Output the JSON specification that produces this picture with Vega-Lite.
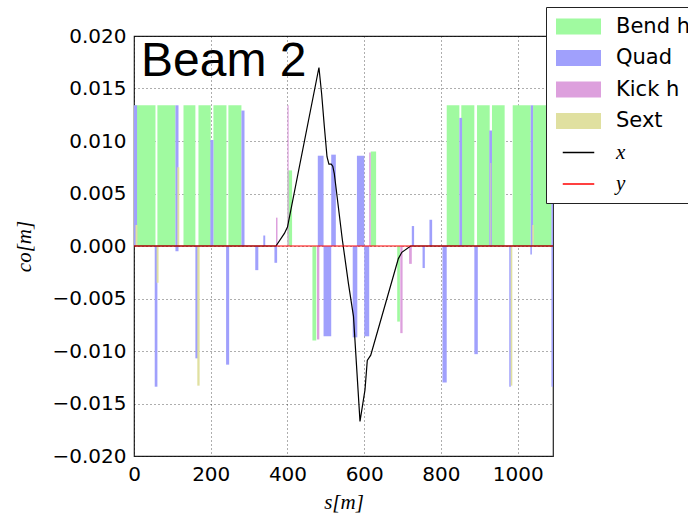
{
  "$schema": "https://vega.github.io/schema/vega-lite/v6.json",
  "width": 419,
  "height": 420,
  "autosize": {"type": "none"},
  "padding": {"left": 134, "top": 36, "right": 135, "bottom": 59},
  "background": "white",
  "title": {"text": "Beam 2", "anchor": "start", "frame": "group", "orient": "top", "offset": -45, "dy": 72, "baseline": "alphabetic", "font": "Liberation Sans", "fontSize": 48, "fontWeight": "normal", "color": "#000", "dx": 7},
  "config": {
    "view": {"stroke": "#222", "strokeWidth": 1.2},
    "axis": {"labelFont": "DejaVu Sans", "labelFontSize": 20, "labelColor": "#000", "ticks": false, "domain": false, "labelPadding": 8, "labelFlush": false, "labelOverlap": false, "grid": true, "gridDash": [1, 3], "gridColor": "#000", "gridOpacity": 0.8, "gridWidth": 0.8, "titleFont": "Liberation Serif", "titleFontStyle": "italic", "titleFontWeight": "normal", "titleFontSize": 21, "titleColor": "#000"}
  },
  "datasets": {
    "elements": [
      {"type": "Bend h", "s0": 1, "s1": 56, "v": 0.0134},
      {"type": "Bend h", "s0": 61, "s1": 108, "v": 0.0134},
      {"type": "Bend h", "s0": 129, "s1": 160, "v": 0.0134},
      {"type": "Bend h", "s0": 168, "s1": 200, "v": 0.0134},
      {"type": "Bend h", "s0": 207, "s1": 241, "v": 0.0134},
      {"type": "Bend h", "s0": 246, "s1": 280, "v": 0.0134},
      {"type": "Bend h", "s0": 815, "s1": 848, "v": 0.0134},
      {"type": "Bend h", "s0": 853, "s1": 887, "v": 0.0134},
      {"type": "Bend h", "s0": 894, "s1": 927, "v": 0.0134},
      {"type": "Bend h", "s0": 933, "s1": 966, "v": 0.0134},
      {"type": "Bend h", "s0": 987, "s1": 1034, "v": 0.0134},
      {"type": "Bend h", "s0": 1040, "s1": 1088, "v": 0.0134},
      {"type": "Bend h", "s0": 400, "s1": 412, "v": 0.0072},
      {"type": "Bend h", "s0": 617, "s1": 631, "v": 0.009},
      {"type": "Bend h", "s0": 465, "s1": 475, "v": -0.009},
      {"type": "Bend h", "s0": 686, "s1": 693, "v": -0.0072},
      {"type": "Quad", "s0": 0, "s1": 8, "v": 0.0134},
      {"type": "Quad", "s0": 54, "s1": 61, "v": -0.0134},
      {"type": "Quad", "s0": 108, "s1": 116, "v": 0.0134},
      {"type": "Quad", "s0": 108, "s1": 116, "v": -0.0005},
      {"type": "Quad", "s0": 160, "s1": 168, "v": -0.0107},
      {"type": "Quad", "s0": 199, "s1": 207, "v": 0.0101},
      {"type": "Quad", "s0": 240, "s1": 248, "v": -0.0113},
      {"type": "Quad", "s0": 280, "s1": 288, "v": 0.0129},
      {"type": "Quad", "s0": 316, "s1": 324, "v": -0.0023},
      {"type": "Quad", "s0": 337, "s1": 342, "v": 0.001},
      {"type": "Quad", "s0": 366, "s1": 373, "v": -0.0016},
      {"type": "Quad", "s0": 479, "s1": 494, "v": 0.0086},
      {"type": "Quad", "s0": 494, "s1": 514, "v": -0.0086},
      {"type": "Quad", "s0": 514, "s1": 526, "v": 0.0087},
      {"type": "Quad", "s0": 570, "s1": 582, "v": -0.0087},
      {"type": "Quad", "s0": 581, "s1": 600, "v": 0.0086},
      {"type": "Quad", "s0": 600, "s1": 613, "v": -0.0086},
      {"type": "Quad", "s0": 724, "s1": 730, "v": 0.0019},
      {"type": "Quad", "s0": 752, "s1": 758, "v": -0.0021},
      {"type": "Quad", "s0": 770, "s1": 777, "v": 0.0025},
      {"type": "Quad", "s0": 804, "s1": 815, "v": -0.013},
      {"type": "Quad", "s0": 848, "s1": 855, "v": 0.0122},
      {"type": "Quad", "s0": 887, "s1": 896, "v": -0.0103},
      {"type": "Quad", "s0": 926, "s1": 933, "v": 0.011},
      {"type": "Quad", "s0": 978, "s1": 982, "v": -0.0134},
      {"type": "Quad", "s0": 1033, "s1": 1037, "v": -0.0008},
      {"type": "Quad", "s0": 1034, "s1": 1040, "v": 0.0134},
      {"type": "Quad", "s0": 1088, "s1": 1092, "v": 0.0134},
      {"type": "Quad", "s0": 1088, "s1": 1092, "v": -0.0134},
      {"type": "Kick h", "s0": 370, "s1": 374, "v": 0.0027},
      {"type": "Kick h", "s0": 400, "s1": 403, "v": 0.0134},
      {"type": "Kick h", "s0": 477, "s1": 483, "v": -0.0089},
      {"type": "Kick h", "s0": 613, "s1": 617, "v": 0.0089},
      {"type": "Kick h", "s0": 694, "s1": 700, "v": -0.0083},
      {"type": "Kick h", "s0": 717, "s1": 724, "v": -0.0017},
      {"type": "Sext", "s0": 4, "s1": 9, "v": 0.002},
      {"type": "Sext", "s0": 59, "s1": 64, "v": -0.0035},
      {"type": "Sext", "s0": 113, "s1": 118, "v": 0.0075},
      {"type": "Sext", "s0": 165, "s1": 171, "v": -0.0133},
      {"type": "Sext", "s0": 929, "s1": 931, "v": 0.0079},
      {"type": "Sext", "s0": 982, "s1": 986, "v": -0.0133},
      {"type": "Sext", "s0": 1038, "s1": 1042, "v": 0.002}
    ],
    "orbit": [
      {"series": "x", "s": 0, "v": 0},
      {"series": "x", "s": 370, "v": 0},
      {"series": "x", "s": 392, "v": 0.0012},
      {"series": "x", "s": 400, "v": 0.0018},
      {"series": "x", "s": 482, "v": 0.017},
      {"series": "x", "s": 489, "v": 0.0145},
      {"series": "x", "s": 496, "v": 0.0114},
      {"series": "x", "s": 503, "v": 0.0085},
      {"series": "x", "s": 508, "v": 0.0078},
      {"series": "x", "s": 514, "v": 0.0078},
      {"series": "x", "s": 518, "v": 0.0076},
      {"series": "x", "s": 522, "v": 0.0069},
      {"series": "x", "s": 543, "v": 0.0006},
      {"series": "x", "s": 559, "v": -0.0036},
      {"series": "x", "s": 572, "v": -0.0067},
      {"series": "x", "s": 589, "v": -0.0167},
      {"series": "x", "s": 602, "v": -0.0137},
      {"series": "x", "s": 608, "v": -0.0109},
      {"series": "x", "s": 617, "v": -0.0104},
      {"series": "x", "s": 689, "v": -0.0012},
      {"series": "x", "s": 698, "v": -0.0006},
      {"series": "x", "s": 721, "v": 0},
      {"series": "x", "s": 1092, "v": 0},
      {"series": "y", "s": 0, "v": 0},
      {"series": "y", "s": 1092, "v": 0}
    ]
  },
  "layer": [
    {
      "data": {"name": "elements"},
      "mark": {"type": "bar", "clip": true},
      "encoding": {
        "x": {"field": "s0", "type": "quantitative", "scale": {"domain": [0, 1092], "nice": false, "zero": false},
              "axis": {"values": [0, 200, 400, 600, 800, 1000], "format": "d", "title": "s[m]", "titlePadding": 7}},
        "x2": {"field": "s1"},
        "y": {"field": "v", "type": "quantitative", "scale": {"domain": [-0.02, 0.02], "nice": false},
              "axis": {"values": [-0.02, -0.015, -0.01, -0.005, 0, 0.005, 0.01, 0.015, 0.02], "format": ".3f", "title": "co[m]", "titlePadding": 17}},
        "y2": {"datum": 0},
        "color": {"field": "type", "type": "nominal",
          "scale": {"domain": ["Bend h", "Quad", "Kick h", "Sext", "x", "y"], "range": ["#a0faa0", "#a0a0fc", "#dda0dd", "#e0e0a0", "#000000", "#ff0000"]},
          "legend": {
            "orient": "none", "legendX": 412, "legendY": -29, "title": null,
            "symbolSize": 2025, "labelFont": "DejaVu Sans", "labelFontSize": 21, "labelColor": "#000",
            "symbolOffset": 13, "labelOffset": 27, "padding": 9, "rowPadding": 9.5,
            "strokeColor": "#222", "fillColor": "white", "symbolOpacity": 1,
            "encode": {
              "symbols": {"update": {
                "shape": {"signal": "(datum.value === 'x' || datum.value === 'y') ? 'M-0.7,0L0.7,0' : 'M-1,-0.36L1,-0.36L1,0.36L-1,0.36Z'"},
                "fill": {"signal": "(datum.value === 'x' || datum.value === 'y') ? 'transparent' : scale('color', datum.value)"},
                "stroke": {"signal": "(datum.value === 'x' || datum.value === 'y') ? scale('color', datum.value) : 'transparent'"},
                "strokeWidth": {"signal": "(datum.value === 'x' || datum.value === 'y') ? 1.5 : 0"},
                "opacity": {"value": 1}
              }},
              "labels": {"update": {
                "font": {"signal": "(datum.value === 'x' || datum.value === 'y') ? 'Liberation Serif' : 'DejaVu Sans'"},
                "fontStyle": {"signal": "(datum.value === 'x' || datum.value === 'y') ? 'italic' : 'normal'"}
              }}
            }
          }
        }
      }
    },
    {
      "data": {"name": "orbit"},
      "mark": {"type": "line", "clip": true, "strokeWidth": 1.2},
      "encoding": {
        "x": {"field": "s", "type": "quantitative"},
        "y": {"field": "v", "type": "quantitative"},
        "color": {"field": "series", "type": "nominal"},
        "order": {"field": "s", "type": "quantitative"}
      }
    }
  ]
}
